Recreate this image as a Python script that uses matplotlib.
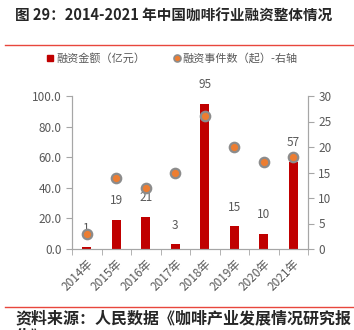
import numpy as np
import matplotlib.pyplot as plt

plt.rcParams['font.family'] = ['Noto Sans CJK SC', 'DejaVu Sans']

years = ['2014年', '2015年', '2016年', '2017年', '2018年', '2019年', '2020年', '2021年']
amount = [1, 19, 21, 3, 95, 15, 10, 57]      # 融资金额（亿元）
events = [3, 14, 12, 15, 26, 20, 17, 18]     # 融资事件数（起）

grey = '#595959'
red = '#C00000'

fig = plt.figure(figsize=(3.54, 3.30), dpi=100)
W, H = 354, 330
ax = fig.add_axes([72 / W, 1 - 249 / H, (308 - 72) / W, (249 - 96) / H])
ax2 = ax.twinx()

x = np.arange(len(years))
ax.bar(x, amount, width=0.3, color=red, zorder=2)
for xi, v in zip(x, amount):
    ax.annotate(str(v), (xi, v), xytext=(0, 9), textcoords='offset points',
                ha='center', va='bottom', fontsize=8.5, color=grey)

ax2.plot(x, events, ls='none', marker='o', ms=6.8, mfc='#ED7D31',
         mec='#8C8C8C', mew=1.6, zorder=3)

ax.set_xlim(-0.5, len(years) - 0.5)
ax.set_ylim(0, 100)
ax.set_yticks(np.arange(0, 101, 20))
ax.set_yticklabels(['%.1f' % t for t in np.arange(0, 101, 20)])
ax2.set_ylim(0, 30)
ax2.set_yticks(np.arange(0, 31, 5))

ax.set_xticks(x)
ax.set_xticklabels(years, rotation=45, ha='right', rotation_mode='anchor')
ax.set_xticks(np.arange(-0.5, len(years), 1), minor=True)
ax.tick_params(axis='x', which='major', length=0, pad=6)
ax.tick_params(axis='x', which='minor', length=4, color='#A6A6A6', direction='out')

for a in (ax, ax2):
    a.tick_params(axis='y', labelsize=8.5, labelcolor=grey, color='#A6A6A6', length=4)
    a.spines['top'].set_visible(False)
    for s in ['left', 'right', 'bottom']:
        a.spines[s].set_color('#A6A6A6')
ax.tick_params(axis='x', labelsize=8.5, labelcolor=grey)
ax.set_zorder(ax2.get_zorder() - 1)
ax.patch.set_visible(False)

# legend
fig.patches.append(plt.Rectangle((47 / W, 1 - 61 / H), 6 / W, 6 / H,
                                 transform=fig.transFigure, color=red))
fig.text(56 / W, 1 - 58 / H, '融资金额（亿元）', fontsize=8, color=grey, va='center')
fig.lines.append(plt.Line2D([177 / W], [1 - 58 / H], transform=fig.transFigure,
                            marker='o', ms=5, mfc='#ED7D31', mec='#8C8C8C', mew=1.2))
fig.text(182 / W, 1 - 58 / H, '融资事件数（起）-右轴', fontsize=8, color=grey, va='center')

# title and source
fig.text(15 / W, 1 - 16 / H, '图 29：2014-2021 年中国咖啡行业融资整体情况',
         fontsize=10.5, fontweight='bold', color='#262626', va='center')
fig.lines.append(plt.Line2D([5 / W, 1], [1 - 45 / H] * 2, transform=fig.transFigure,
                            color='#E8463C', lw=1))
fig.lines.append(plt.Line2D([5 / W, 1], [1 - 307 / H] * 2, transform=fig.transFigure,
                            color='#E8463C', lw=1))
src_kw = dict(fontsize=11.5, fontweight='bold', style='italic', color='#262626', va='center')
fig.text(15 / W, 1 - 318 / H, '资料来源：人民数据《咖啡产业发展情况研究报', **src_kw)
fig.text(15 / W, 1 - 337 / H, '告》', **src_kw)

fig.savefig('out.png', dpi=100)
